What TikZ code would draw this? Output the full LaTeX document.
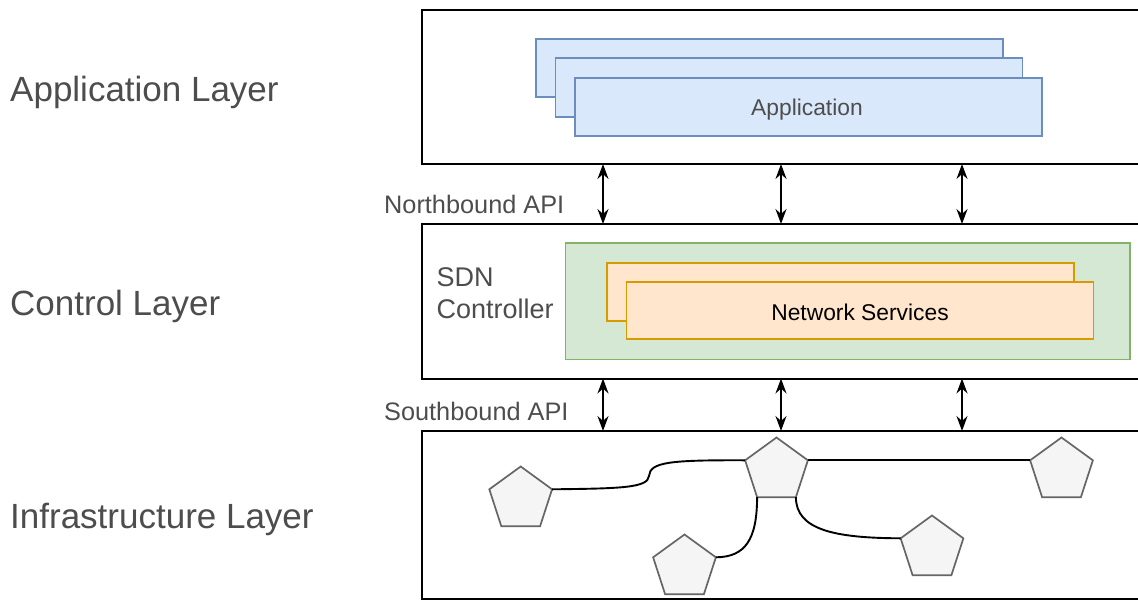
\documentclass[tikz,border=0pt]{standalone}
\usepackage{fontspec}
\setmainfont{Liberation Sans}
\usetikzlibrary{shapes.geometric,arrows.meta}
\definecolor{txtgrey}{HTML}{4D4D4D}
\definecolor{appfill}{HTML}{DAE8FC}
\definecolor{appline}{HTML}{6C8EBF}
\definecolor{ctlfill}{HTML}{D5E8D4}
\definecolor{ctlline}{HTML}{82B366}
\definecolor{svcfill}{HTML}{FFE6CC}
\definecolor{svcline}{HTML}{D79B00}
\definecolor{devfill}{HTML}{F5F5F5}
\definecolor{devline}{HTML}{666666}
\tikzset{
  layerbox/.style={draw=black, line width=2pt, fill=white},
  appbox/.style={draw=appline, fill=appfill, line width=1.7pt},
  svcbox/.style={draw=svcline, fill=svcfill, line width=1.7pt},
  ctlbox/.style={draw=ctlline, fill=ctlfill, line width=1.7pt},
  device/.style={regular polygon, regular polygon sides=5, minimum size=66pt,
    inner sep=0pt, outer sep=0pt, draw=devline, fill=devfill, line width=1.7pt},
  layerlabel/.style={anchor=base west, text=txtgrey, font=\fontsize{35}{40}\selectfont, inner sep=0pt},
  apilabel/.style={anchor=base west, text=txtgrey, font=\fontsize{25.3}{30}\selectfont, inner sep=0pt},
  boxtext/.style={anchor=base, inner sep=0pt, font=\fontsize{22.8}{27}\selectfont},
  apitip/.tip={Stealth[length=15pt,width=11pt,inset=5pt]},
  api/.style={apitip-apitip, line width=1.8pt},
  link/.style={line width=1.9pt, black}
}
\begin{document}
\begin{tikzpicture}[x=1pt, y=-1pt]
\useasboundingbox (0,0) rectangle (1138,600);

% layer frames (running off the right edge)
\draw[layerbox] (421.5,10) rectangle (1150,164);
\draw[layerbox] (421.5,224) rectangle (1150,378.5);
\draw[layerbox] (421.5,431) rectangle (1150,598.5);

% layer names
\node[layerlabel] (lapp) at (10,101.7) {Application Layer};
\node[layerlabel] (lctl) at (10,315) {Control Layer};
\node[layerlabel] (linf) at (10,528.3) {Infrastructure Layer};

% application stack
\draw[appbox] (536,39) rectangle (1003,97.3);
\draw[appbox] (555.5,58.3) rectangle (1022.5,116.7);
\draw[appbox] (575,78) rectangle (1042,136);
\node[boxtext, text=txtgrey] (app) at (807,115.7) {Application};

% controller
\draw[ctlbox] (565.6,243.3) rectangle (1129.7,359.5);
\draw[svcbox] (606.8,262.7) rectangle (1073.8,320.7);
\draw[svcbox] (626.5,281.7) rectangle (1093.5,339.3);
\node[boxtext, text=black] (svc) at (860,320) {Network Services};
\node[anchor=base west, text=txtgrey, font=\fontsize{27}{32}\selectfont, inner sep=0pt] (sdn) at (436.5,286.7) {SDN};
\node[anchor=base west, text=txtgrey, font=\fontsize{27}{32}\selectfont, inner sep=0pt] (ctrl) at (436.5,318.7) {Controller};

% APIs
\node[apilabel] (nb) at (384,213.3) {Northbound API};
\node[apilabel] (sb) at (384,420.3) {Southbound API};
\foreach \x [count=\i] in {603,781,962} {
  \coordinate (nt\i) at (\x,164);
  \coordinate (nb\i) at (\x,224);
  \coordinate (st\i) at (\x,378.5);
  \coordinate (sbb\i) at (\x,431);
  \draw[api] (nt\i) -- (nb\i);
  \draw[api] (st\i) -- (sbb\i);
}

% forwarding devices
\node[device] (d1) at (520.7,499.5) {};
\node[device] (d2) at (776.5,470.5) {};
\node[device] (d3) at (1061.5,470.5) {};
\node[device] (d4) at (684.5,567.5) {};
\node[device] (d5) at (932,548.5) {};

% links
\draw[link] (d1.corner 5) .. controls (620,488.5) and (648,488) .. (649,476)
            .. controls (650,462) and (670,460) .. (d2.corner 2);
\draw[link] (d2.corner 5) -- (d3.corner 2);
\draw[link] (d2.corner 3) .. controls (757,540) and (745,557) .. (d4.corner 5);
\draw[link] (d2.corner 4) .. controls (796,530) and (835,538) .. (d5.corner 2);
\end{tikzpicture}
\end{document}
